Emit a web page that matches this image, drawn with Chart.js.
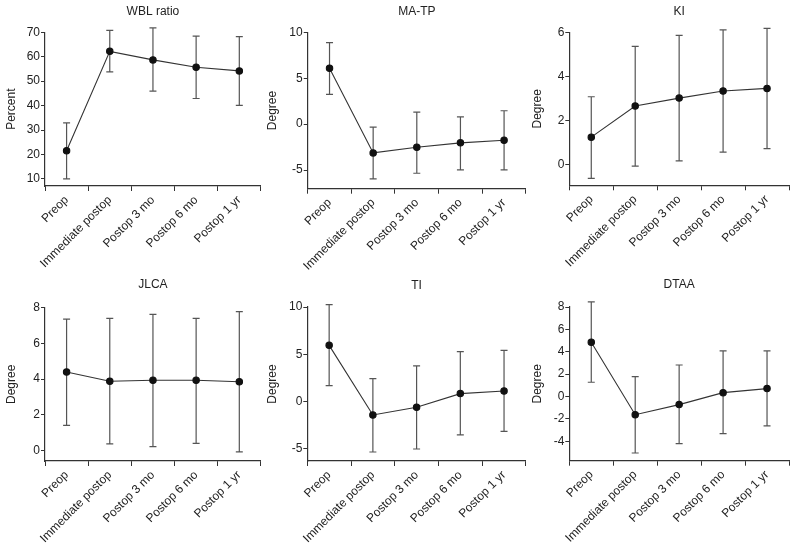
<!DOCTYPE html>
<html>
<head>
<meta charset="utf-8">
<script src="https://cdn.jsdelivr.net/npm/chart.js@4/dist/chart.umd.min.js"></script>
<style>
  html, body { margin: 0; padding: 0; background: #fff; }
  #wrap { position: relative; width: 796px; height: 550px; overflow: hidden; }
  .pane { position: absolute; }
</style>
</head>
<body>
<div id="wrap"></div>
<script>
// ---------- data ----------
const categories = ['Preop', 'Immediate postop', 'Postop 3 mo', 'Postop 6 mo', 'Postop 1 yr'];

const wblMean  = [21.5, 62.2, 58.7, 55.7, 54.2];
const wblUpper = [32.9, 70.8, 71.8, 68.4, 68.2];
const wblLower = [10.0, 53.8, 45.9, 42.9, 40.1];
const wblTicks = [10, 20, 30, 40, 50, 60, 70];

const matpMean  = [6.08, -3.13, -2.51, -2.04, -1.75];
const matpUpper = [8.88, -0.33, 1.31, 0.80, 1.46];
const matpLower = [3.24, -5.97, -5.35, -4.99, -4.99];
const matpTicks = [-5, 0, 5, 10];

const kiMean  = [1.25, 2.66, 3.02, 3.34, 3.46];
const kiUpper = [3.08, 5.36, 5.86, 6.11, 6.18];
const kiLower = [-0.62, -0.06, 0.18, 0.57, 0.73];
const kiTicks = [0, 2, 4, 6];

const jlcaMean  = [4.39, 3.87, 3.93, 3.93, 3.85];
const jlcaUpper = [7.36, 7.40, 7.63, 7.40, 7.78];
const jlcaLower = [1.40, 0.36, 0.21, 0.39, -0.09];
const jlcaTicks = [0, 2, 4, 6, 8];

const tiMean  = [5.95, -1.41, -0.60, 0.85, 1.13];
const tiUpper = [10.25, 2.43, 3.77, 5.28, 5.42];
const tiLower = [1.69, -5.32, -5.00, -3.52, -3.13];
const tiTicks = [-5, 0, 5, 10];

const dtaaMean  = [4.85, -1.62, -0.72, 0.35, 0.71];
const dtaaUpper = [8.45, 1.78, 2.82, 4.08, 4.08];
const dtaaLower = [1.28, -5.04, -4.21, -3.31, -2.62];
const dtaaTicks = [-4, -2, 0, 2, 4, 6, 8];

// ---------- layout (panel geometry) ----------
const panels = [
  { title: 'WBL ratio', yTitle: 'Percent', mean: wblMean, up: wblUpper, lo: wblLower, ticks: wblTicks, min: 7.1, max: 70,
    x: 0,   y: 0,   w: 266, h: 270, aL: 45,   aR: 264, aT: 32.3, aB: 186,   tC: 12,  yTP: 4.9 },
  { title: 'MA-TP', yTitle: 'Degree', mean: matpMean, up: matpUpper, lo: matpLower, ticks: matpTicks, min: -7.03, max: 10,
    x: 265, y: 0,   w: 266, h: 270, aL: 42.7, aR: 261, aT: 32.3, aB: 188.7, tC: 12,  yTP: 0 },
  { title: 'KI', yTitle: 'Degree', mean: kiMean, up: kiUpper, lo: kiLower, ticks: kiTicks, min: -0.93, max: 6,
    x: 530, y: 0,   w: 266, h: 270, aL: 39.3, aR: 259, aT: 32.3, aB: 185.3, tC: 12,  yTP: 0 },
  { title: 'JLCA', yTitle: 'Degree', mean: jlcaMean, up: jlcaUpper, lo: jlcaLower, ticks: jlcaTicks, min: -0.6, max: 8,
    x: 0,   y: 270, w: 266, h: 280, aL: 45,   aR: 264, aT: 37.7, aB: 191,   tC: 15,  yTP: 4.9 },
  { title: 'TI', yTitle: 'Degree', mean: tiMean, up: tiUpper, lo: tiLower, ticks: tiTicks, min: -6.27, max: 10,
    x: 265, y: 270, w: 266, h: 280, aL: 42.3, aR: 261, aT: 37,   aB: 191,   tC: 15.5, yTP: 0.5 },
  { title: 'DTAA', yTitle: 'Degree', mean: dtaaMean, up: dtaaUpper, lo: dtaaLower, ticks: dtaaTicks, min: -5.73, max: 8,
    x: 530, y: 270, w: 266, h: 280, aL: 39.3, aR: 259, aT: 37,   aB: 190.7, tC: 15,  yTP: 0 }
];

const FONT = 'Liberation Sans, Arial, Helvetica, sans-serif';
const TEXT = '#222';
const AXIS = '#333';

// error bar plugin (uses the chart's own scales)
const errorBars = {
  id: 'errorBars',
  beforeDatasetsDraw(chart, args, opts) {
    const meta = chart.getDatasetMeta(0);
    const ys = chart.scales.y;
    const ctx = chart.ctx;
    ctx.save();
    ctx.strokeStyle = '#555';
    ctx.lineWidth = 1.2;
    meta.data.forEach((pt, i) => {
      const x = pt.x;
      const yU = ys.getPixelForValue(opts.up[i]);
      const yL = ys.getPixelForValue(opts.lo[i]);
      ctx.beginPath();
      ctx.moveTo(x, yU); ctx.lineTo(x, yL);
      ctx.moveTo(x - 3.5, yU); ctx.lineTo(x + 3.5, yU);
      ctx.moveTo(x - 3.5, yL); ctx.lineTo(x + 3.5, yL);
      ctx.stroke();
    });
    ctx.restore();
  }
};

const wrap = document.getElementById('wrap');
panels.forEach(p => {
  const div = document.createElement('div');
  div.className = 'pane';
  div.style.left = p.x + 'px';
  div.style.top = p.y + 'px';
  div.style.width = p.w + 'px';
  div.style.height = p.h + 'px';
  const cv = document.createElement('canvas');
  div.appendChild(cv);
  wrap.appendChild(div);

  const titleFont = 12, lh = 1.2;
  const tPadTop = p.tC - titleFont * lh / 2;
  const tPadBottom = p.aT - tPadTop - titleFont * lh;

  new Chart(cv, {
    type: 'line',
    data: {
      labels: categories,
      datasets: [{
        data: p.mean,
        borderColor: '#333',
        borderWidth: 1.1,
        backgroundColor: '#111',
        pointBackgroundColor: '#111',
        pointBorderColor: '#111',
        pointRadius: 3.2,
        tension: 0,
        fill: false
      }]
    },
    options: {
      responsive: true,
      maintainAspectRatio: false,
      animation: false,
      events: [],
      layout: { padding: { left: 0, right: p.w - p.aR, top: 0, bottom: 0 } },
      plugins: {
        legend: { display: false },
        tooltip: { enabled: false },
        title: {
          display: true,
          text: p.title,
          fullSize: false,
          color: TEXT,
          font: { family: FONT, size: titleFont, weight: 'normal', lineHeight: lh },
          padding: { top: tPadTop, bottom: tPadBottom }
        },
        errorBars: { up: p.up, lo: p.lo }
      },
      scales: {
        x: {
          type: 'category',
          offset: true,
          grid: { offset: true, drawOnChartArea: false, drawTicks: true, tickLength: 5, color: AXIS, lineWidth: 1 },
          border: { display: true, color: AXIS, width: 1.2 },
          ticks: {
            color: TEXT,
            font: { family: FONT, size: 12 },
            maxRotation: 45, minRotation: 45,
            autoSkip: false,
            padding: 2
          },
          afterFit(s) { s.height = p.h - p.aB; }
        },
        y: {
          type: 'linear',
          min: p.min, max: p.max,
          afterBuildTicks(s) { s.ticks = p.ticks.map(v => ({ value: v })); },
          grid: { drawOnChartArea: false, drawTicks: true, tickLength: 4, color: AXIS, lineWidth: 1 },
          border: { display: true, color: AXIS, width: 1.2 },
          ticks: { color: TEXT, font: { family: FONT, size: 12 }, padding: 1 },
          title: {
            display: true, text: p.yTitle, color: TEXT,
            font: { family: FONT, size: 12, lineHeight: 1.2 },
            padding: { top: p.yTP, bottom: 0 }
          },
          afterFit(s) { s.width = p.aL; }
        }
      }
    },
    plugins: [errorBars]
  });
});
</script>
</body>
</html>
